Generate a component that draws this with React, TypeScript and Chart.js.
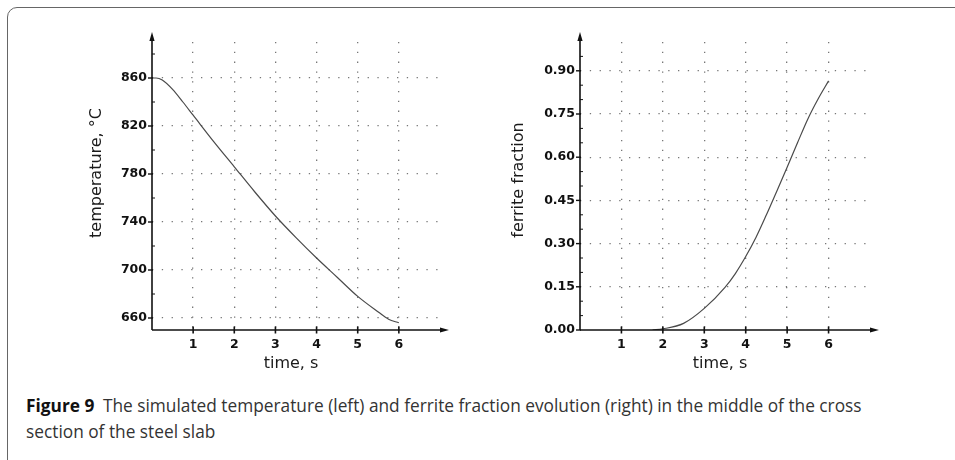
import React, { useEffect, useRef } from "react";
import { Chart, registerables } from "chart.js";

Chart.register(...registerables);

// ---- data ----
const timeTemp = [0, 0.1, 0.25, 0.5, 0.75, 1, 1.5, 2, 2.5, 3, 3.5, 4, 4.5, 5, 5.5, 5.75, 6];
const temperature = [860, 860, 858.3, 850.5, 840, 829, 807, 786, 765, 745, 727, 710, 694, 678, 665, 659, 656];
const timeFerrite = [1.75, 2, 2.5, 3, 3.5, 3.75, 4, 4.25, 4.5, 4.75, 5, 5.25, 5.5, 5.75, 6];
const ferrite = [0, 0.004, 0.023, 0.075, 0.148, 0.196, 0.255, 0.322, 0.4, 0.482, 0.565, 0.65, 0.733, 0.803, 0.865];
const timeTicks = [1, 2, 3, 4, 5, 6];
const tempTicks = [660, 700, 740, 780, 820, 860];
const tempMinorTicks = [680, 720, 760, 800, 840, 880];
const ferriteTicks = [0, 0.15, 0.3, 0.45, 0.6, 0.75, 0.9];
const ferriteMinorTicks = [0.05, 0.1, 0.2, 0.25, 0.35, 0.4, 0.5, 0.55, 0.65, 0.7, 0.8, 0.85, 0.95];

const TICK_FONT = { family: "'DejaVu Sans', sans-serif", size: 12.5, weight: "bold" as const };
const TITLE_FONT = "16px 'DejaVu Sans', sans-serif";
const GRID_DASH = [1.3, 8.5];

type Cfg = {
  xs: number[];
  ys: number[];
  yMin: number;
  yMax: number;
  yTicks: number[];
  yMinor: number[];
  yFormat: (v: number) => string;
  yTitle: string;
  yTitleX: number;
  yTitleDy: number;
  yWidth: number;
  padRight: number;
};

function decoPlugin(cfg: Cfg) {
  return {
    id: "axisDeco",
    afterDraw(chart: any) {
      const { ctx, chartArea } = chart;
      const { left, right, top, bottom } = chartArea;
      const x = chart.scales.x;
      const y = chart.scales.y;
      ctx.save();
      ctx.strokeStyle = "#111";
      ctx.fillStyle = "#111";
      ctx.lineWidth = 1.6;
      // y axis with arrow
      ctx.beginPath();
      ctx.moveTo(left, bottom);
      ctx.lineTo(left, top - 3);
      ctx.stroke();
      ctx.beginPath();
      ctx.moveTo(left, top - 10);
      ctx.lineTo(left - 2.6, top - 1);
      ctx.lineTo(left + 2.6, top - 1);
      ctx.closePath();
      ctx.fill();
      // x axis with arrow
      ctx.beginPath();
      ctx.moveTo(left, bottom);
      ctx.lineTo(right + 2, bottom);
      ctx.stroke();
      ctx.beginPath();
      ctx.moveTo(right + 9, bottom);
      ctx.lineTo(right, bottom - 2.4);
      ctx.lineTo(right, bottom + 2.4);
      ctx.closePath();
      ctx.fill();
      // major y ticks
      ctx.lineWidth = 1.4;
      cfg.yTicks.forEach((v) => {
        const py = y.getPixelForValue(v);
        ctx.beginPath();
        ctx.moveTo(left - 4, py);
        ctx.lineTo(left + 1, py);
        ctx.stroke();
      });
      // minor y ticks
      ctx.lineWidth = 1;
      cfg.yMinor.forEach((v) => {
        const py = y.getPixelForValue(v);
        ctx.beginPath();
        ctx.moveTo(left, py);
        ctx.lineTo(left + 3, py);
        ctx.stroke();
      });
      // x ticks
      ctx.lineWidth = 1.6;
      timeTicks.forEach((v) => {
        const px = x.getPixelForValue(v);
        ctx.beginPath();
        ctx.moveTo(px, bottom - 3.5);
        ctx.lineTo(px, bottom + 3.5);
        ctx.stroke();
      });
      // axis titles
      ctx.fillStyle = "#1a1a1a";
      ctx.font = TITLE_FONT;
      ctx.textAlign = "center";
      ctx.textBaseline = "middle";
      ctx.fillText("time, s", (left + right) / 2 - 5, bottom + 34);
      ctx.translate(left + cfg.yTitleX, (top + bottom) / 2 + cfg.yTitleDy);
      ctx.rotate(-Math.PI / 2);
      ctx.fillText(cfg.yTitle, 0, 0);
      ctx.restore();
    },
  };
}

function makeChart(canvas: HTMLCanvasElement, cfg: Cfg) {
  const data = cfg.xs.map((t, i) => ({ x: t, y: cfg.ys[i] }));
  return new Chart(canvas, {
    type: "line",
    data: {
      datasets: [
        {
          data,
          borderColor: "#4a4a4a",
          borderWidth: 1.2,
          pointRadius: 0,
          cubicInterpolationMode: "monotone",
          fill: false,
        },
      ],
    },
    options: {
      responsive: false,
      animation: false,
      events: [],
      layout: { padding: { left: 0, top: 42, right: cfg.padRight, bottom: 0 } },
      plugins: { legend: { display: false }, tooltip: { enabled: false } },
      scales: {
        x: {
          type: "linear",
          min: 0,
          max: 7,
          afterBuildTicks: (s: any) => {
            s.ticks = timeTicks.map((v) => ({ value: v }));
          },
          afterFit: (s: any) => {
            s.height = 40;
          },
          border: { display: false, dash: GRID_DASH },
          grid: {
            color: "#777",
            lineWidth: 1.3,
            drawTicks: false,
          },
          ticks: {
            font: TICK_FONT,
            color: "#111",
            padding: 7,
            maxRotation: 0,
            autoSkip: false,
            callback: (v: any) => String(v),
          },
        },
        y: {
          type: "linear",
          min: cfg.yMin,
          max: cfg.yMax,
          afterBuildTicks: (s: any) => {
            s.ticks = cfg.yTicks.map((v) => ({ value: v }));
          },
          afterFit: (s: any) => {
            s.width = cfg.yWidth;
          },
          border: { display: false, dash: GRID_DASH },
          grid: {
            color: (c: any) => (c.tick && c.tick.value === cfg.yMin ? "rgba(0,0,0,0)" : "#777"),
            lineWidth: 1.3,
            drawTicks: false,
          },
          ticks: {
            font: TICK_FONT,
            color: "#111",
            padding: 5,
            autoSkip: false,
            callback: (v: any) => cfg.yFormat(Number(v)),
          },
        },
      },
    },
    plugins: [decoPlugin(cfg)],
  } as any);
}

export default function App() {
  const leftRef = useRef<HTMLCanvasElement>(null);
  const rightRef = useRef<HTMLCanvasElement>(null);

  useEffect(() => {
    const left = makeChart(leftRef.current!, {
      xs: timeTemp,
      ys: temperature,
      yMin: 650,
      yMax: 890,
      yTicks: tempTicks,
      yMinor: tempMinorTicks,
      yFormat: (v) => String(v),
      yTitle: "temperature, °C",
      yTitleX: -55,
      yTitleDy: -13,
      yWidth: 152,
      padRight: 30,
    });
    const right = makeChart(rightRef.current!, {
      xs: timeFerrite,
      ys: ferrite,
      yMin: 0,
      yMax: 1.0,
      yTicks: ferriteTicks,
      yMinor: ferriteMinorTicks,
      yFormat: (v) => v.toFixed(2),
      yTitle: "ferrite fraction",
      yTitleX: -61,
      yTitleDy: -6,
      yWidth: 110,
      padRight: 80,
    });
    return () => {
      left.destroy();
      right.destroy();
    };
  }, []);

  return (
    <div
      style={{
        position: "fixed",
        left: 0,
        top: 0,
        width: 955,
        height: 460,
        overflow: "hidden",
        background: "#fff",
      }}
    >
      <div
        style={{
          position: "absolute",
          left: 7,
          top: 7,
          width: 1000,
          height: 520,
          border: "1.5px solid #666",
          borderRadius: 10,
          boxSizing: "border-box",
        }}
      />
      <canvas
        ref={leftRef}
        width={470}
        height={370}
        style={{ position: "absolute", left: 0, top: 0 }}
      />
      <canvas
        ref={rightRef}
        width={480}
        height={370}
        style={{ position: "absolute", left: 470, top: 0 }}
      />
      <div
        style={{
          position: "absolute",
          left: 26,
          top: 393,
          fontFamily: "'Open Sans', sans-serif",
          fontSize: 17.3,
          lineHeight: "26px",
          color: "#333",
          whiteSpace: "nowrap",
        }}
      >
        <span style={{ fontWeight: 700, color: "#111" }}>Figure 9</span>
        {"\u2002The simulated temperature (left) and ferrite fraction evolution (right) in the middle of the cross"}
        <br />
        section of the steel slab
      </div>
    </div>
  );
}
